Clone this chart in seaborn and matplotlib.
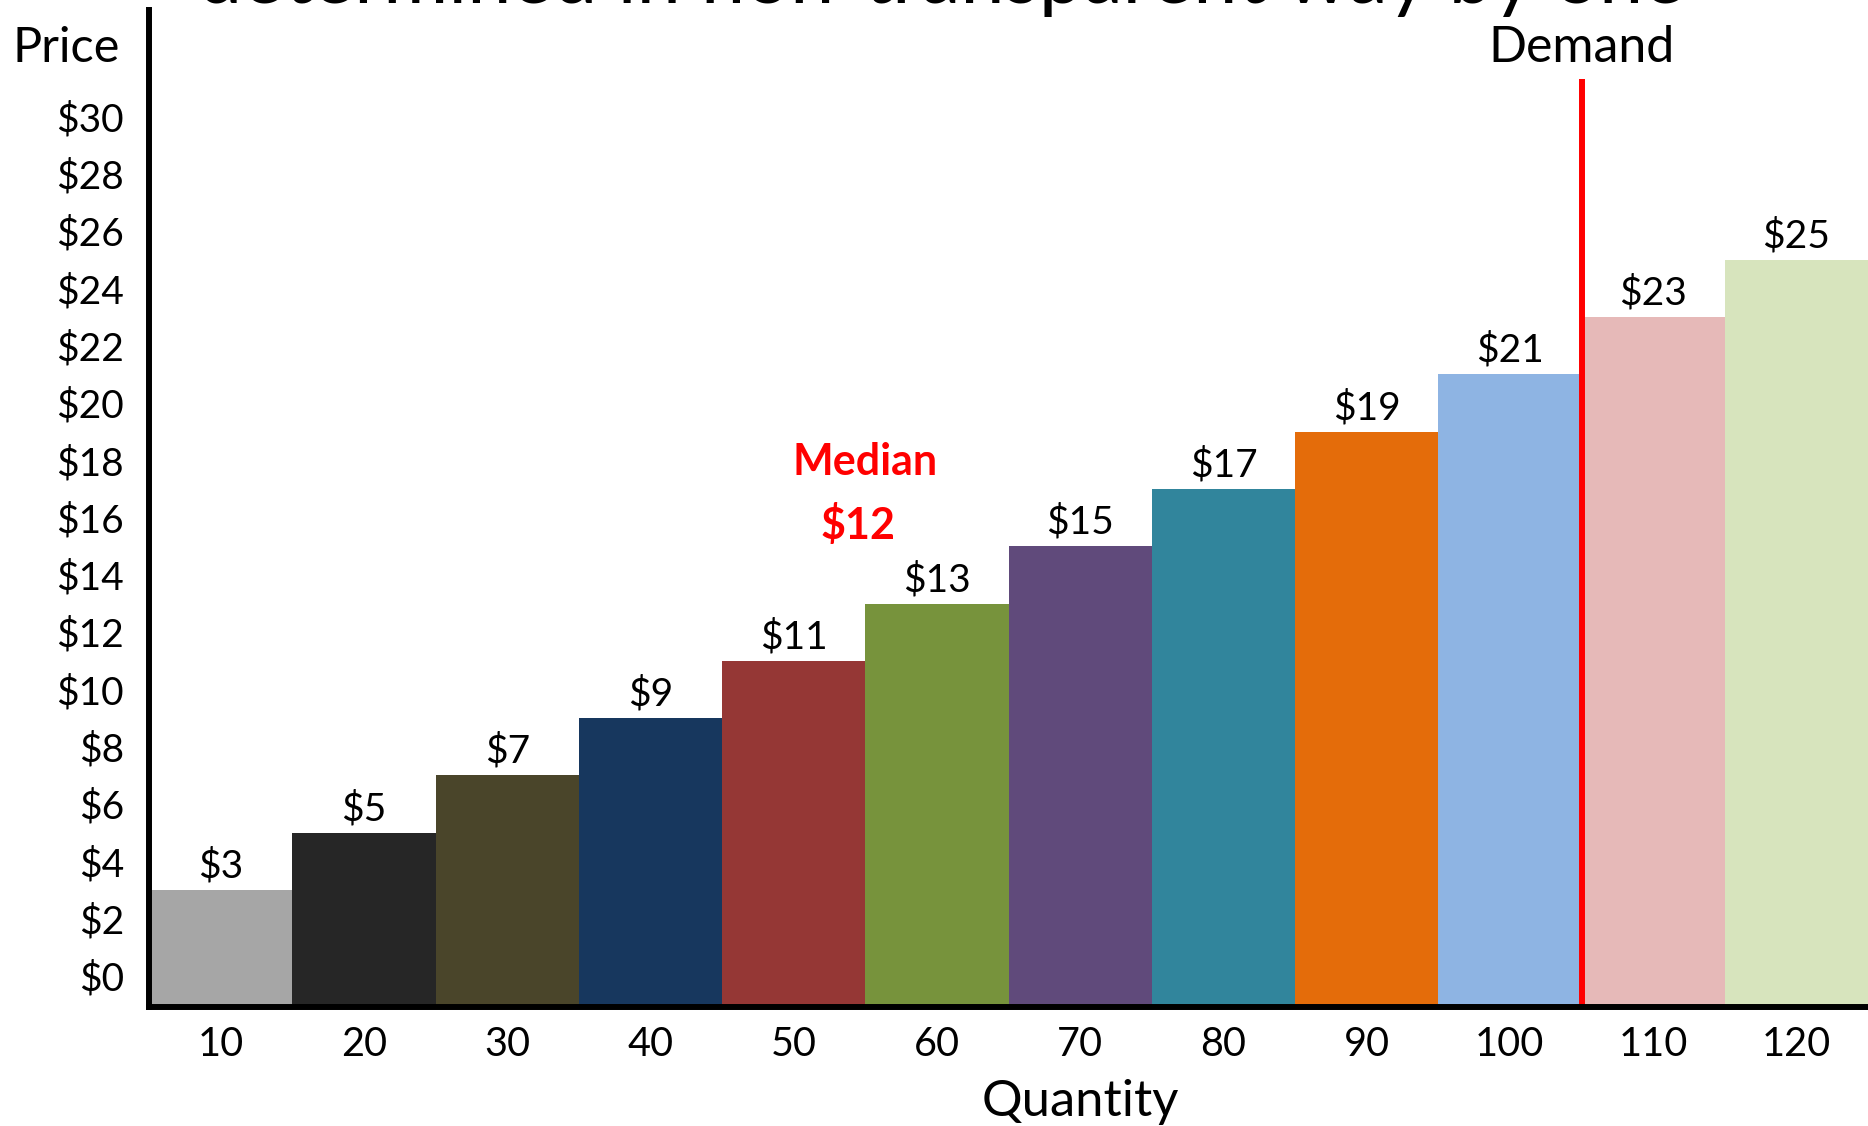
import numpy as np
import pandas as pd
import seaborn as sns
from matplotlib import pyplot as plt

# values
quantity = ['10', '20', '30', '40', '50', '60', '70', '80', '90', '100', '110', '120']
price = [3, 5, 7, 9, 11, 13, 15, 17, 19, 21, 23, 25]
bar_colors = ['#A6A6A6', '#262626', '#4A452A', '#17375E', '#953735', '#77933C',
              '#604A7B', '#31859C', '#E46C0A', '#8EB4E3', '#E6B9B8', '#D7E4BD']
y_ticks = list(range(0, 31, 2))
median_price = 12
demand_quantity = 105  # between 100 and 110

sns.set_style('white')
plt.rcParams['font.family'] = ['Lato', 'DejaVu Sans']
plt.rcParams['text.color'] = 'black'
plt.rcParams['axes.labelcolor'] = 'black'
plt.rcParams['xtick.color'] = 'black'
plt.rcParams['ytick.color'] = 'black'

df = pd.DataFrame({'Quantity': quantity, 'Price': price})

fig = plt.figure(figsize=(18.68, 11.26), dpi=100)
ax = fig.add_axes([0.0798, 0.1057, 0.9202, 0.885])

ylo = -1.08
sns.barplot(data=df, x='Quantity', y='Price', hue='Quantity', palette=bar_colors,
            width=1.0, legend=False, saturation=1, ax=ax)

# stretch bars down to the axis line
for p in ax.patches:
    p.set_y(ylo)
    p.set_height(p.get_height() - ylo)
    p.set_linewidth(0)

for i, v in enumerate(price):
    ax.annotate('$' + str(v), (i, v), xytext=(0, 4), textcoords='offset points',
                ha='center', va='bottom', fontsize=28)

# demand line
dx = quantity.index('100') + 0.5
ax.plot([dx, dx], [ylo, 31.3], color='#FF0000', lw=4.3, solid_capstyle='butt')
ax.text(dx, 32.4, 'Demand', ha='center', va='center', fontsize=36)

# median annotation
ax.text(4.5, 17.95, 'Median', ha='center', va='center', fontsize=31,
        color='#FF0000', fontweight='bold')
ax.text(4.45, 15.75, '$' + str(median_price), ha='center', va='center', fontsize=31,
        color='#FF0000', fontweight='bold')

ax.set_xlim(-0.5, 11.5)
ax.set_ylim(ylo, 33.7)
ax.set_yticks(y_ticks)
ax.set_yticklabels(['$' + str(t) for t in y_ticks])
ax.tick_params(axis='y', length=0, pad=18, labelsize=28)
ax.tick_params(axis='x', length=0, pad=14, labelsize=28.5)

for s in ['top', 'right']:
    ax.spines[s].set_visible(False)
for s in ['left', 'bottom']:
    ax.spines[s].set_linewidth(4.3)
    ax.spines[s].set_color('black')

ax.set_xlabel('Quantity', fontsize=36.5)
ax.xaxis.set_label_coords(0.5416, -0.095)
ax.xaxis.label.set_va('center')
ax.set_ylabel('Price', fontsize=35, rotation=0)
ax.yaxis.set_label_coords(-0.048, 0.962)
ax.yaxis.label.set_va('center')
ax.yaxis.label.set_ha('center')

# title, cut off at the top in the reference
fig.text(0.504, 0.9975, 'determined in non-transparent way by one', ha='center',
         va='baseline', fontsize=57)

fig.savefig('out.png', dpi=100)
